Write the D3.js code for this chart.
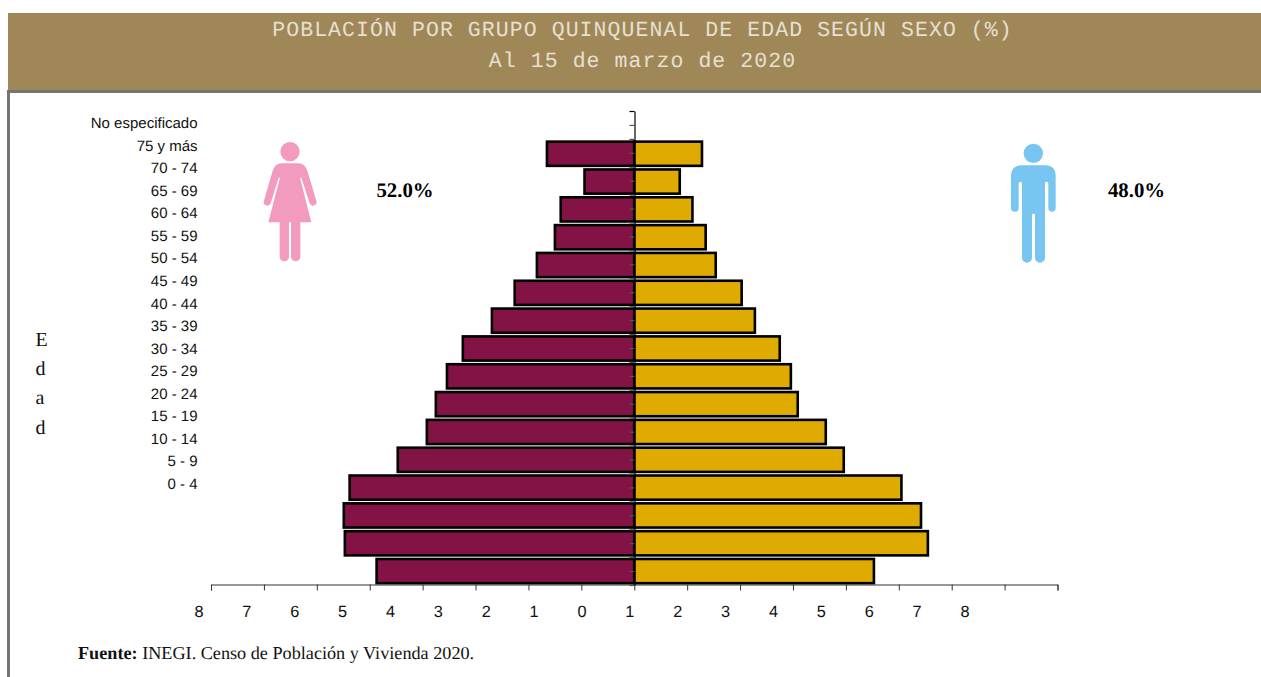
<!DOCTYPE html>
<html>
<head>
<meta charset="utf-8">
<script src="https://d3js.org/d3.v7.min.js"></script>
<style>
  html, body { margin: 0; padding: 0; background: #fff; overflow: hidden; }
  svg { display: block; text-rendering: geometricPrecision; }
</style>
</head>
<body>
<svg width="1261" height="677"></svg>
<script>
// data, oldest group first
const ageGroups = ["No especificado", "75 y más", "70 - 74", "65 - 69", "60 - 64", "55 - 59", "50 - 54", "45 - 49",
  "40 - 44", "35 - 39", "30 - 34", "25 - 29", "20 - 24", "15 - 19", "10 - 14", "5 - 9", "0 - 4"];
const women = [0, 1.65, 0.94, 1.39, 1.5, 1.84, 2.26, 2.69, 3.24, 3.54, 3.75, 3.92, 4.47, 5.38, 5.49, 5.47, 4.87];
const men = [0, 1.28, 0.86, 1.1, 1.35, 1.54, 2.03, 2.28, 2.75, 2.96, 3.09, 3.62, 3.96, 5.05, 5.42, 5.55, 4.53];
const xTickLabels = [8, 7, 6, 5, 4, 3, 2, 1, 0, 1, 2, 3, 4, 5, 6, 7, 8];
const titleLines = ["POBLACIÓN POR GRUPO QUINQUENAL DE EDAD SEGÚN SEXO (%)", "Al 15 de marzo de 2020"];
const yAxisLetters = ["E", "d", "a", "d"];
const womenShare = "52.0%", menShare = "48.0%";

const svg = d3.select("svg");
const sans = "'Liberation Sans', Arial, sans-serif";
const serif = "'Liberation Serif', 'Times New Roman', serif";
const mono = "'Liberation Mono', 'Courier New', monospace";

// header band and frame
svg.append("rect").attr("x", 8).attr("y", 13).attr("width", 1253).attr("height", 78).attr("fill", "#a08757");
svg.append("path").attr("d", "M8.5,677V91.5H1261").attr("fill", "none").attr("stroke", "#747474").attr("stroke-width", 3);

svg.selectAll(".title").data(titleLines).join("text")
    .attr("class", "title")
    .attr("x", 642.5)
    .attr("y", (d, i) => 36 + i * 30.5)
    .attr("text-anchor", "middle")
    .attr("font-family", mono)
    .attr("font-size", "21.5px")
    .attr("letter-spacing", "1.07px")
    .attr("fill", "#e6e0d2")
    .text(d => d);

// scales
const x = d3.scaleLinear().domain([-8, 8]).range([211, 1057.5]);
const y = d3.scaleBand().domain(ageGroups).range([112, 585]).paddingInner(0.13).paddingOuter(0.065);
// the labels of the original do not line up with its ticks or bars
const xLabelPos = d3.scalePoint().domain(d3.range(xTickLabels.length)).range([199, 965]);
const yLabelPos = d3.scalePoint().domain(ageGroups).range([123, 484]);

// bars
const barRows = ageGroups.map((g, i) => ({group: g, women: women[i], men: men[i]})).filter(d => d.women > 0);
svg.selectAll(".women").data(barRows).join("rect")
    .attr("class", "women")
    .attr("x", d => x(-d.women))
    .attr("y", d => y(d.group))
    .attr("width", d => x(0) - x(-d.women))
    .attr("height", y.bandwidth())
    .attr("fill", "#831345").attr("stroke", "#000").attr("stroke-width", 2.6);
svg.selectAll(".men").data(barRows).join("rect")
    .attr("class", "men")
    .attr("x", x(0))
    .attr("y", d => y(d.group))
    .attr("width", d => x(d.men) - x(0))
    .attr("height", y.bandwidth())
    .attr("fill", "#dfab00").attr("stroke", "#000").attr("stroke-width", 2.6);

// x axis, ticks only
const xAxis = svg.append("g")
    .attr("transform", "translate(0,584.5)")
    .call(d3.axisBottom(x).tickValues(d3.range(-8, 9)).tickSize(6).tickSizeOuter(6).tickFormat(""));
xAxis.selectAll("path, line").attr("stroke", "#333");

// center axis with a tick every half band
const yTicks = d3.scaleLinear().domain([0, 34]).range([111, 585]);
const yAxis = svg.append("g")
    .attr("transform", "translate(634.5,0)")
    .call(d3.axisLeft(yTicks).tickValues(d3.range(0, 35)).tickSize(5).tickSizeOuter(0).tickFormat(""));
yAxis.select("path").attr("stroke", "#000").attr("stroke-width", 1.2);
yAxis.selectAll("line").attr("stroke", (d, i) => i ? "#555" : "#000").attr("stroke-width", 1.2);

// axis labels
svg.selectAll(".xlabel").data(xTickLabels).join("text")
    .attr("class", "xlabel")
    .attr("x", (d, i) => xLabelPos(i))
    .attr("y", 616.5)
    .attr("text-anchor", "middle")
    .attr("font-family", sans).attr("font-size", "16.3px").attr("fill", "#111")
    .text(d => d);
svg.selectAll(".ylabel").data(ageGroups).join("text")
    .attr("class", "ylabel")
    .attr("x", 197.5)
    .attr("y", d => yLabelPos(d) + 5)
    .attr("text-anchor", "end")
    .attr("font-family", sans).attr("font-size", "15px").attr("fill", "#111")
    .text(d => d);
svg.selectAll(".edad").data(yAxisLetters).join("text")
    .attr("class", "edad")
    .attr("x", 35.5)
    .attr("y", (d, i) => 346 + i * 29.2)
    .attr("font-family", serif).attr("font-size", "20px").attr("fill", "#111")
    .text(d => d);

// shares
svg.append("text").attr("x", 405).attr("y", 197).attr("text-anchor", "middle")
    .attr("font-family", serif).attr("font-size", "20.8px").attr("font-weight", "bold").text(womenShare);
svg.append("text").attr("x", 1136.5).attr("y", 197).attr("text-anchor", "middle")
    .attr("font-family", serif).attr("font-size", "20.8px").attr("font-weight", "bold").text(menShare);

// woman icon
const woman = svg.append("g").attr("transform", "translate(240,130) scale(0.3333)").attr("fill", "#f29bbf");
woman.append("circle").attr("cx", 150).attr("cy", 65).attr("r", 29);
woman.append("path").attr("d", "M125,100H175Q195,100 203,125L229,212A10.5,10.5 0 0 1 209,220L184,143L180,143L214,277H181V380A14,14 0 0 1 153,380V277H147V380A14,14 0 0 1 119,380V277H85L120,143L116,143L92,220A10.5,10.5 0 0 1 72,212L97,125Q105,100 125,100Z");

// man icon
const man = svg.append("g").attr("transform", "translate(980,120) scale(0.3333)").attr("fill", "#77c5f0");
man.append("circle").attr("cx", 160).attr("cy", 100).attr("r", 29);
man.append("path").attr("d", "M125,136H195Q227,136 227,168V264A11,11 0 0 1 205,264V190A5,5 0 0 0 195,190V413A15,15 0 0 1 165,413V285A4.5,4.5 0 0 0 156,285V413A15,15 0 0 1 126,413V190A5,5 0 0 0 116,190V264A11,11 0 0 1 93,264V168Q93,136 125,136Z");

// source note
const source = svg.append("text").attr("x", 78).attr("y", 658.5)
    .attr("font-family", serif).attr("font-size", "18.2px").attr("fill", "#111");
source.append("tspan").attr("font-weight", "bold").text("Fuente:");
source.append("tspan").text(" INEGI. Censo de Población y Vivienda 2020.");
</script>
</body>
</html>
